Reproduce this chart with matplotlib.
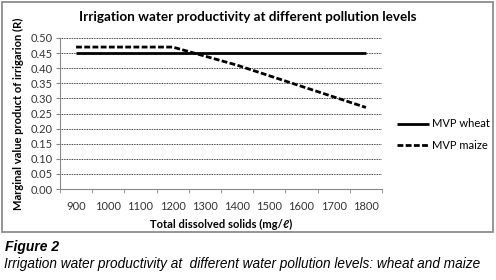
import numpy as np
import matplotlib.pyplot as plt
from matplotlib.patches import Rectangle

# --- Data ---
tds_levels = [900, 1000, 1100, 1200, 1300, 1400, 1500, 1600, 1700, 1800]
mvp_wheat = [0.45, 0.45, 0.45, 0.45, 0.45, 0.45, 0.45, 0.45, 0.45, 0.45]
mvp_maize = [0.47, 0.47, 0.47, 0.47, 0.44, 0.41, 0.375, 0.34, 0.305, 0.27]
y_ticks = np.arange(0, 0.501, 0.05)

W, H = 496, 280
fig = plt.figure(figsize=(W / 100, H / 100), dpi=100)

def fx(px):
    return px / W

def fy(py):
    return 1 - py / H

# chart frame (Excel chart area border)
fig.patches.append(Rectangle((fx(2), fy(232)), fx(491), 230 / H, transform=fig.transFigure,
                             fill=False, edgecolor='#8c8c8c', linewidth=1.3))

ax = fig.add_axes([fx(60), fy(189), fx(322), 151 / H])

xpos = np.arange(len(tds_levels))
ax.plot(xpos, mvp_wheat, color='black', lw=2.0, solid_capstyle='butt', label='MVP wheat')
ax.plot(xpos, mvp_maize, color='black', lw=2.0, linestyle=(0, (2.1, 0.85)),
        dash_capstyle='butt', label='MVP maize')

ax.set_xlim(-0.5, len(tds_levels) - 0.5)
ax.set_ylim(0, 0.5)

font = 'Lato'
tick_col = '#333333'
ax.set_yticks(y_ticks)
ax.set_yticklabels([f'{v:.2f}' for v in y_ticks], fontsize=8, family=font, color=tick_col)
ax.set_xticks(xpos)
ax.set_xticklabels([str(v) for v in tds_levels], fontsize=8, family=font, color=tick_col)
ax.tick_params(axis='x', which='major', length=0, pad=9)
ax.set_xticks(np.arange(-0.5, len(tds_levels)), minor=True)
ax.tick_params(axis='x', which='minor', length=3, direction='out', color='#888888')
ax.tick_params(axis='y', length=3, direction='out', color='#888888', pad=2)

ax.grid(axis='y', color='black', linestyle=(0, (1, 1)), linewidth=0.6)
ax.set_axisbelow(True)
for s in ['top', 'right']:
    ax.spines[s].set_visible(False)
for s in ['left', 'bottom']:
    ax.spines[s].set_color('#888888')
    ax.spines[s].set_linewidth(0.8)

ax.set_xlabel('Total dissolved solids (mg/ℓ)', fontsize=8, family=['Lato', 'DejaVu Sans'],
              fontweight='bold', labelpad=5)
ax.set_ylabel('Marginal value product of irrigarion (R)', fontsize=8, family=font,
              fontweight='bold', labelpad=5)

fig.text(fx(248), fy(17), 'Irrigation water productivity at different pollution levels',
         ha='center', va='center', fontsize=9.7, family=font, fontweight='bold')

ax.legend(loc='upper left', bbox_to_anchor=(fx(393), fy(114)), bbox_transform=fig.transFigure,
          frameon=False, prop={'family': font, 'size': 8},
          handlelength=2.8, handletextpad=0.3, labelspacing=0.95, borderaxespad=0)

fig.text(fx(5), fy(247), 'Figure 2', ha='left', va='center', fontsize=10,
         family='Liberation Sans', fontweight='bold', style='italic')
fig.text(fx(4), fy(264), 'Irrigation water productivity at  different water pollution levels: wheat and maize',
         ha='left', va='center', fontsize=9.8, family='Liberation Sans', style='italic')

fig.savefig('out.png', dpi=100)
